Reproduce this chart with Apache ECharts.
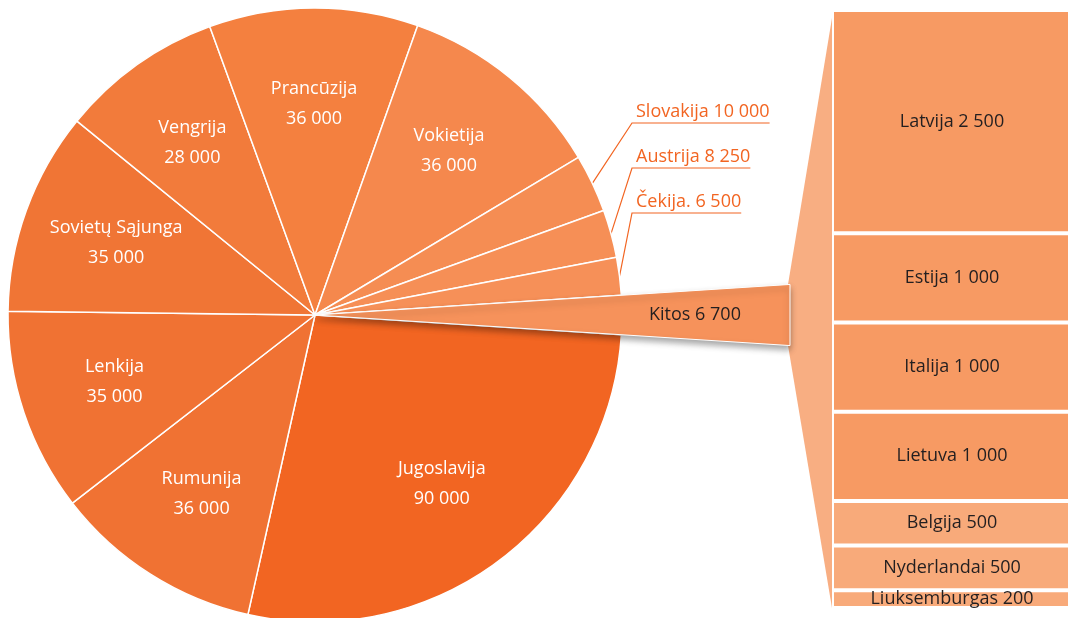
<!DOCTYPE html>
<html><head><meta charset="utf-8">
<script src="https://cdn.jsdelivr.net/npm/echarts@6/dist/echarts.min.js"></script>
<style>html,body{margin:0;padding:0;background:#fff}#c{width:1068px;height:618px}</style>
</head><body><div id="c"></div>
<script>
// ---- data ----
const pieNames  = ['Jugoslavija','Rumunija','Lenkija','Sovietų Sąjunga','Vengrija','Prancūzija','Vokietija','Slovakija','Austrija','Čekija.','Kitos'];
const pieValues = [90000, 36000, 35000, 35000, 28000, 36000, 36000, 10000, 8250, 6500, 6700];
const otherNames  = ['Latvija','Estija','Italija','Lietuva','Belgija','Nyderlandai','Liuksemburgas'];
const otherValues = [2500, 1000, 1000, 1000, 500, 500, 200];

// ---- styles ----
const pieColors = ['#F26522','#F07233','#F07233','#F07535','#F27B3B','#F4803F','#F5884D','#F58D53','#F68F56','#F69058','#F6925B'];
const barColors = ['#F79A63','#F79A63','#F79A63','#F79A63','#F8AA7A','#F8AA7A','#F8AA7A'];
const FONT = 'Open Sans';
const PIE_CX = 315, PIE_CY = 315, PIE_R = 307;
const OUT_X = 636, OUT_Y0 = 123, OUT_STEP = 45;

const fmt = v => String(v).replace(/\B(?=(\d{3})+(?!\d))/g, ' ');
const total = pieValues.reduce((a, b) => a + b, 0);
const kitosIdx = pieNames.length - 1;
const otherTotal = otherValues.reduce((a, b) => a + b, 0);
const kitosHalf = pieValues[kitosIdx] / total * Math.PI; // half angle in radians
const startAngle = -(pieValues[kitosIdx] / total * 360) / 2;
const outerIdx = [7, 8, 9];

const chart = echarts.init(document.getElementById('c'), null, {renderer: 'canvas'});

const mainData = pieNames.map((n, i) => {
  const outer = outerIdx.indexOf(i) >= 0;
  return {
    name: n, value: pieValues[i],
    itemStyle: {color: pieColors[i]},
    label: {show: outer},
    labelLine: {show: outer}
  };
});
const labelData = pieNames.map((n, i) => ({
  name: n, value: pieValues[i],
  label: {show: i < 7}
}));

const barSeries = otherNames.map((n, i) => ({
  type: 'bar', name: n, stack: 'k', barWidth: '100%', z: 3,
  data: [otherValues[i]],
  itemStyle: {color: barColors[i], borderColor: '#fff', borderWidth: 2},
  label: {show: true, position: 'inside', color: '#231F20', fontFamily: FONT, fontSize: 18,
          formatter: p => p.seriesName + ' ' + fmt(p.value)},
  emphasis: {disabled: true}, silent: true, animation: false
}));

function geom(api) {
  const top = api.coord([0, 0]);
  const bot = api.coord([0, otherTotal]);
  const bw = api.size([1, 0])[0];
  const barLeft = top[0] - bw / 2;
  const xEnd = barLeft - 42;
  const t = Math.tan(kitosHalf) * (xEnd - PIE_CX);
  return {top, bot, barLeft, xEnd, wTop: PIE_CY - t, wBot: PIE_CY + t};
}

const option = {
  backgroundColor: '#fff',
  animation: false,
  grid: {left: 832, width: 240, top: 10, bottom: 10, outerBoundsMode: 'none', containLabel: false},
  xAxis: {type: 'category', data: ['k'], show: false},
  yAxis: {type: 'value', min: 0, max: otherTotal, inverse: true, show: false},
  series: [
    {
      type: 'pie', center: [PIE_CX, PIE_CY], radius: PIE_R, startAngle: startAngle, clockwise: true,
      avoidLabelOverlap: false, silent: true, z: 2,
      itemStyle: {borderColor: '#fff', borderWidth: 1.5},
      label: {position: 'outside', color: '#F26522', fontFamily: FONT, fontSize: 18,
              formatter: p => p.name + ' ' + fmt(p.value)},
      labelLine: {lineStyle: {color: '#F26522', width: 1.2}, length: 20, length2: 20},
      labelLayout: function (p) {
        const slot = outerIdx.indexOf(p.dataIndex);
        if (slot < 0 || !p.labelLinePoints) return {};
        const ly = OUT_Y0 + slot * OUT_STEP;
        const pts = p.labelLinePoints;
        const w = p.labelRect.width;
        return {x: OUT_X, y: ly - 2, align: 'left', verticalAlign: 'bottom',
                labelLinePoints: [pts[0], [OUT_X - 4, ly], [OUT_X + w, ly]]};
      },
      data: mainData
    },
    {
      type: 'pie', center: [PIE_CX, PIE_CY], radius: [110, PIE_R], startAngle: startAngle, clockwise: true,
      avoidLabelOverlap: false, silent: true, z: 4,
      itemStyle: {color: 'rgba(0,0,0,0)', borderWidth: 0},
      label: {position: 'inside', color: '#fff', fontFamily: FONT, fontSize: 18, lineHeight: 30,
              formatter: p => p.name + '\n' + fmt(p.value)},
      labelLine: {show: false},
      emphasis: {disabled: true},
      data: labelData
    },
    {
      type: 'custom', coordinateSystem: 'cartesian2d', z: 1, clip: false, silent: true,
      data: [[0, 0, otherTotal]],
      renderItem: function (params, api) {
        const g = geom(api);
        return {type: 'polygon', shape: {points: [[g.xEnd - 2, g.wTop], [g.barLeft, g.top[1] + 8], [g.barLeft, g.bot[1]], [g.xEnd - 2, g.wBot]]},
                style: {fill: '#F8AE82'}};
      }
    },
    {
      type: 'custom', coordinateSystem: 'cartesian2d', z: 5, clip: false, silent: true,
      data: [[0, 0, otherTotal]],
      renderItem: function (params, api) {
        const g = geom(api);
        return {type: 'group', children: [
          {type: 'polygon', shape: {points: [[PIE_CX, PIE_CY], [g.xEnd, g.wTop], [g.xEnd, g.wBot]]},
           style: {fill: pieColors[kitosIdx], stroke: '#fff', lineWidth: 1,
                   shadowColor: 'rgba(0,0,0,0.35)', shadowBlur: 6, shadowOffsetX: 0, shadowOffsetY: 4}},
          {type: 'text', x: PIE_CX + 0.8 * (g.xEnd - PIE_CX), y: PIE_CY,
           style: {text: pieNames[kitosIdx] + ' ' + fmt(pieValues[kitosIdx]), fill: '#231F20',
                   font: '18px "' + FONT + '"', align: 'center', verticalAlign: 'middle'}}
        ]};
      }
    }
  ].concat(barSeries)
};
chart.setOption(option);
</script>
</body></html>
